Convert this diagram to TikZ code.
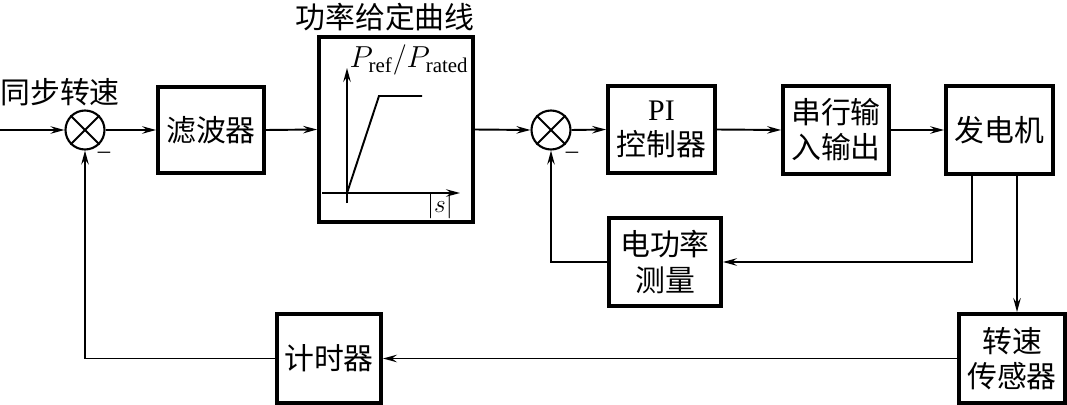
\documentclass[tikz,border=0pt]{standalone}
\usepackage{fontspec}
\setmainfont{Liberation Serif}
\newfontfamily\cjk{Noto Sans CJK SC}
\usetikzlibrary{positioning,arrows.meta,calc}
\tikzset{
  kbloco/.style={draw, line width=2.2pt, align=center, inner sep=0pt,
                 font=\cjk\fontsize{17pt}{20pt}\selectfont},
  ksoma/.style={draw, circle, line width=1.2pt, minimum size=7.8mm, inner sep=0pt},
  kseta/.style={-{Stealth[length=2.8mm, width=1.5mm, inset=1mm]}, line width=1.1pt},
  klinha/.style={line width=1.1pt},
  krotulo/.style={font=\cjk\fontsize{17pt}{20pt}\selectfont, inner sep=0pt},
  kmenos/.style={font=\fontsize{14pt}{14pt}\selectfont, inner sep=0pt},
}
\begin{document}
\begin{tikzpicture}[x=0.02cm, y=-0.02cm]
    \useasboundingbox (0,0) rectangle (1067,405);
    % somadores
    \node[ksoma] (sum1) at (85,130) {};
    \node[ksoma] (sum2) at (551,130) {};
    \foreach \s in {sum1,sum2}{
        \draw[klinha] (\s.north west) -- (\s.south east);
        \draw[klinha] (\s.south west) -- (\s.north east);
    }
    \node[kmenos] (neg1) at (104,155) {--};
    \node[kmenos] (neg2) at (572,155) {--};
    % blocos
    \node[kbloco, minimum width=21.2mm, minimum height=17.2mm] (filt) at (211,130) {滤波器};
    \node[kbloco, minimum width=30.8mm, minimum height=37mm] (curve) at (396,129.5) {};
    \node[kbloco, minimum width=21.4mm, minimum height=17.4mm] (pi) at (661.5,129.5) {{\rmfamily PI}\\控制器};
    \node[kbloco, minimum width=21.2mm, minimum height=17.6mm] (sio) at (836,130) {串行输\\入输出};
    \node[kbloco, minimum width=21.4mm, minimum height=17.6mm] (gen) at (999.5,130) {发电机};
    \node[kbloco, minimum width=22.4mm, minimum height=17.6mm] (pmeas) at (665,262) {电功率\\测量};
    \node[kbloco, minimum width=20.8mm, minimum height=17.8mm] (timer) at (329,358.5) {计时器};
    \node[kbloco, minimum width=21.2mm, minimum height=17.8mm] (sensor) at (1012,358.5) {转速\\传感器};
    % rotulos
    \node[krotulo] (lblin) at (60,92) {同步转速};
    \node[krotulo] (lblcurve) at (385,17) {功率给定曲线};
    % curva de potencia
    \draw[kseta] (347,203) -- (347,68);
    \draw[kseta] (322,193) -- (460,193);
    \draw[klinha] (347,193) -- (379,96) -- (422,96);
    \node[font=\fontsize{17pt}{17pt}\selectfont, inner sep=0pt] (ylab) at (409,60) {$P_{\mathrm{ref}}/P_{\mathrm{rated}}$};
    \node[font=\fontsize{15pt}{15pt}\selectfont, inner sep=0pt] (xlab) at (440,206) {$|s|$};
    % ligacoes
    \coordinate (in0) at (0,130);
    \draw[kseta] (in0) -- (sum1.west);
    \draw[kseta] (sum1.east) -- (filt.west);
    \draw[kseta] (filt.east) -- (curve.west);
    \draw[kseta] (curve.east) -- (sum2.west);
    \draw[kseta] (sum2.east) -- (pi.west);
    \draw[kseta] (pi.east) -- (sio.west);
    \draw[kseta] (sio.east) -- (gen.west);
    \draw[kseta] ($(gen.south)+(-27.5,0)$) |- (pmeas.east);
    \draw[kseta] (pmeas.west) -| (sum2.south);
    \draw[kseta] ($(gen.south)+(17.5,0)$) coordinate (tap) -- (tap |- sensor.north);
    \draw[kseta] (sensor.west) -- (timer.east);
    \draw[kseta] (timer.west) -| (sum1.south);
\end{tikzpicture}
\end{document}
